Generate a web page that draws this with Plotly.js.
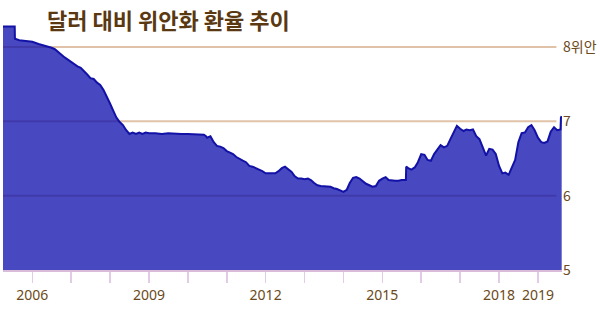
<!DOCTYPE html>
<html>
<head>
<meta charset="utf-8">
<script src="https://cdn.plot.ly/plotly-3.0.1.min.js"></script>
<style>html,body{margin:0;padding:0;background:#fff;}#chart{width:600px;height:318px;}</style>
</head>
<body>
<div id="chart"></div>
<script>
const titleText = "달러 대비 위안화 환율 추이";
const dates = [
"2005-04-01","2005-07-20","2005-07-22","2005-09-01","2005-11-01",
"2006-01-01","2006-03-01","2006-05-01","2006-07-01","2006-08-01","2006-09-01","2006-10-01","2006-11-01","2006-12-01",
"2007-01-01","2007-02-01","2007-03-01","2007-04-01","2007-05-01","2007-06-01","2007-07-01","2007-08-01","2007-09-01","2007-10-01","2007-11-01","2007-12-01",
"2008-01-01","2008-02-01","2008-03-01","2008-04-01","2008-05-01","2008-06-01","2008-07-01","2008-08-01","2008-09-01","2008-10-01","2008-11-01","2008-12-01",
"2009-01-01","2009-03-01","2009-05-01","2009-07-01","2009-09-01","2009-11-01",
"2010-01-01","2010-03-01","2010-05-01","2010-06-01","2010-06-20","2010-07-01","2010-08-01","2010-09-01","2010-10-01","2010-11-01","2010-12-01",
"2011-01-01","2011-02-01","2011-03-01","2011-04-01","2011-05-01","2011-06-01","2011-07-01","2011-08-01","2011-09-01","2011-10-01","2011-11-01","2011-12-01",
"2012-01-01","2012-02-01","2012-03-01","2012-04-01","2012-05-01","2012-06-01","2012-07-01","2012-08-01","2012-09-01","2012-10-01","2012-11-01","2012-12-01",
"2013-01-01","2013-02-01","2013-03-01","2013-04-01","2013-05-01","2013-06-01","2013-07-01","2013-08-01","2013-09-01","2013-10-01","2013-11-01","2013-12-01",
"2014-01-01","2014-02-01","2014-03-01","2014-04-01","2014-05-01","2014-06-01","2014-07-01","2014-08-01","2014-09-01","2014-10-01","2014-11-01","2014-12-01",
"2015-01-01","2015-02-01","2015-03-01","2015-04-01","2015-05-01","2015-06-01","2015-07-01","2015-08-10","2015-08-13","2015-09-01","2015-10-01","2015-11-01","2015-12-01",
"2016-01-01","2016-02-01","2016-03-01","2016-04-01","2016-05-01","2016-06-01","2016-07-01","2016-08-01","2016-09-01","2016-10-01","2016-11-01","2016-12-01",
"2017-01-01","2017-02-01","2017-03-01","2017-04-01","2017-05-01","2017-06-01","2017-07-01","2017-08-01","2017-09-01","2017-10-01","2017-11-01","2017-12-01",
"2018-01-01","2018-02-01","2018-03-01","2018-04-01","2018-05-01","2018-06-01","2018-07-01","2018-08-01","2018-09-01","2018-10-01","2018-11-01","2018-12-01",
"2019-01-01","2019-02-01","2019-03-01","2019-04-01","2019-05-01","2019-06-01","2019-07-01","2019-08-01","2019-08-05","2019-08-12"
];
const rates = [
8.277,8.277,8.11,8.09,8.08,
8.07,8.04,8.02,7.99,7.97,7.93,7.90,7.86,7.83,
7.80,7.76,7.74,7.72,7.68,7.63,7.58,7.57,7.52,7.49,7.42,7.34,
7.24,7.14,7.05,6.99,6.95,6.88,6.83,6.85,6.83,6.85,6.83,6.85,
6.84,6.84,6.83,6.84,6.83,6.83,
6.83,6.83,6.83,6.82,6.80,6.78,6.80,6.72,6.67,6.66,6.64,
6.60,6.58,6.56,6.52,6.49,6.47,6.45,6.40,6.39,6.37,6.36,6.33,
6.30,6.30,6.31,6.30,6.33,6.37,6.39,6.36,6.32,6.26,6.23,6.23,
6.22,6.23,6.21,6.17,6.14,6.13,6.13,6.12,6.12,6.10,6.09,6.07,
6.05,6.08,6.17,6.24,6.25,6.23,6.19,6.16,6.14,6.12,6.13,6.20,
6.23,6.25,6.21,6.20,6.20,6.20,6.21,6.21,6.39,6.37,6.35,6.38,6.45,
6.56,6.55,6.48,6.47,6.56,6.62,6.68,6.65,6.67,6.76,6.86,6.94,
6.90,6.87,6.89,6.88,6.89,6.80,6.76,6.66,6.54,6.63,6.62,6.56,
6.40,6.30,6.31,6.28,6.38,6.48,6.72,6.84,6.85,6.92,6.95,6.88,
6.78,6.72,6.71,6.73,6.86,6.92,6.88,6.89,7.05,7.07
];
const yearTicks = ["2006-01-01","2007-01-01","2008-01-01","2009-01-01","2010-01-01","2011-01-01","2012-01-01","2013-01-01","2014-01-01","2015-01-01","2016-01-01","2017-01-01","2018-01-01","2019-01-01"];
const yearLabels = ["2006","","","2009","","","2012","","","2015","","","2018","2019"];
const yTickVals = [5,6,7,8];
const yTickText = ["5","6","7","8위안"];

const brown = "#6b4a20";
const trace = {
  x: dates, y: rates, type: "scatter", mode: "lines",
  fill: "tozeroy", fillcolor: "rgba(11,11,171,0.75)",
  line: {color: "#1212a6", width: 2},
  hoverinfo: "skip"
};
const gridShapes = [8,7,6].map(v => ({
  type: "line", xref: "paper", yref: "y", x0: 0, x1: 0.99, y0: v, y1: v,
  line: {color: "#e0c2a8", width: 2}, layer: "below"
}));
const layout = {
  width: 600, height: 318,
  margin: {l: 3, r: 38, t: 18, b: 48},
  paper_bgcolor: "#ffffff", plot_bgcolor: "#ffffff",
  showlegend: false,
  font: {family: "'Noto Sans CJK KR', 'Noto Sans', sans-serif", color: brown, size: 14},
  title: {
    text: titleText, xref: "container", yref: "container",
    x: 47/600, xanchor: "left", y: 1 - 21/318, yanchor: "middle",
    font: {family: "'Noto Sans CJK KR', sans-serif", size: 22, color: "#5a3912", weight: 700}
  },
  xaxis: {
    type: "date", range: ["2005-04-01", "2019-08-15"],
    tickvals: yearTicks, ticktext: yearLabels,
    ticks: "outside", ticklen: 11, tickwidth: 1.5, tickcolor: "#e2cbe6",
    showline: true, linecolor: "#d9bcd9", linewidth: 2,
    showgrid: false, zeroline: false,
    tickfont: {size: 14, color: brown, family: "'Noto Sans', 'Noto Sans CJK KR', sans-serif"},
    fixedrange: true
  },
  yaxis: {
    range: [5, 8.39], side: "right",
    tickvals: yTickVals, ticktext: yTickText,
    showgrid: false, zeroline: false, showline: false, ticks: "",
    tickfont: {size: 14, color: brown, family: "'Noto Sans CJK KR', 'Noto Sans', sans-serif"},
    fixedrange: true
  },
  shapes: gridShapes
};
Plotly.newPlot("chart", [trace], layout, {displayModeBar: false, staticPlot: true});
</script>
</body>
</html>
